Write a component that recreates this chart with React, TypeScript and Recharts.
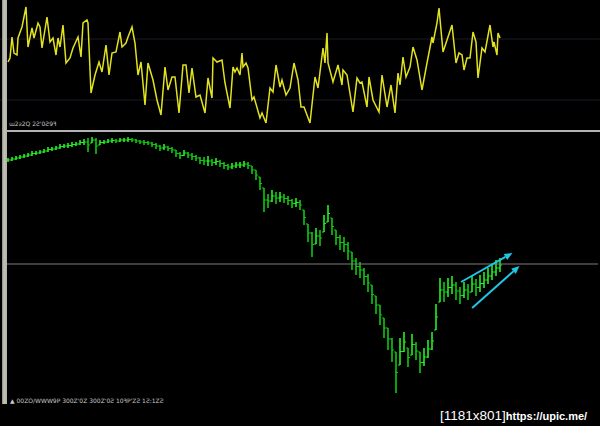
import React from "react";
import { LineChart, Line, XAxis, YAxis, ReferenceLine, ComposedChart, Bar } from "recharts";

// ---- Oscillator (top panel): bar position and oscillator value ----
const oscT = [8,10,12,14,17,18,22,26,28,32,34,38,40,42,47,50,53,56,58,60,63,66,70,73,78,81,83,87,88,91,95,99,102,106,109,112,116,120,122,126,128,132,135,138,141,145,148,153,157,161,165,168,172,175,179,183,186,189,192,196,200,205,208,212,213,217,222,225,230,233,235,237,240,242,243,246,248,252,254,260,262,266,270,273,276,280,282,286,290,294,298,301,304,310,315,318,323,325,327,328,333,338,342,343,347,353,357,360,362,367,369,373,379,382,387,391,395,398,400,403,406,410,413,417,422,427,432,433,437,439,443,447,452,456,459,462,464,467,470,473,476,478,482,485,490,493,494,497,498,500];
const oscV = [68,72,93,77,75,92,103,123,83,102,92,107,103,82,113,88,92,75,92,83,105,67,72,82,93,73,107,110,107,37,55,68,58,85,55,77,78,98,83,87,93,103,87,55,68,25,67,50,30,15,63,40,53,53,17,65,65,37,62,33,35,17,52,32,72,68,70,47,22,63,58,62,55,77,63,67,62,30,33,12,17,7,42,38,65,43,50,35,42,67,50,23,23,7,53,42,82,67,97,67,48,65,45,60,55,18,52,47,48,23,53,30,18,55,23,45,17,57,45,73,53,63,83,70,40,67,93,87,107,122,78,90,105,67,77,75,60,72,72,98,88,52,82,78,105,83,88,75,97,92];
const oscGrid = [91, 30];

// ---- Price bars (bottom panel): high / low per bar ----
const highs = [242,243,244,245,246,247,249,249,250,251,253,253,254,256,256,257,258,258,260,261,262,263,262,260,260,261,262,261,262,262,263,262,261,260,260,259,258,257,255,256,254,253,250,248,250,248,247,245,243,243,244,241,242,240,238,236,237,238,238,239,238,234,230,223,212,206,210,208,208,206,204,201,202,200,190,176,168,172,170,185,195,182,170,165,163,158,148,142,138,132,126,115,104,95,82,72,62,48,62,68,52,66,58,48,52,60,68,96,122,118,122,124,118,113,118,116,124,121,125,128,132,136,140,142];
const lows = [238,239,240,241,242,243,244,245,246,247,248,249,250,251,252,252,253,254,255,255,248,257,246,255,256,257,257,257,258,258,258,258,257,256,255,255,253,251,249,250,249,247,243,241,244,242,240,239,236,235,234,234,235,233,231,230,231,232,232,233,231,226,220,210,188,192,198,196,198,197,195,192,193,190,175,158,143,156,154,168,178,165,155,150,148,140,130,125,122,115,108,96,86,75,62,50,38,7,35,48,33,45,40,27,34,42,50,70,98,98,103,106,100,96,102,100,108,104,108,112,116,120,124,128];
const levelLine = 136;
const upperArrow = [{ x: 113, y: 118 }, { x: 125.75, y: 147 }];
const lowerArrow = [{ x: 115.75, y: 92 }, { x: 127.5, y: 134 }];

const oscData = oscT.map((t, i) => ({ t, v: oscV[i] }));
const SLOTS = 148;
const priceData = Array.from({ length: SLOTS }, (_, i) => {
  if (i >= highs.length) return { i, range: null };
  const mid = (highs[i] + lows[i]) / 2;
  const prevMid = i > 0 ? (highs[i - 1] + lows[i - 1]) / 2 : mid;
  const o = Math.min(highs[i], Math.max(lows[i], prevMid));
  return { i, range: [lows[i], highs[i]], o, c: mid, h: highs[i], l: lows[i] };
});

const BarStick = (props: any) => {
  const { x, y, width, height, payload } = props;
  if (!payload || !payload.range || !Number.isFinite(y) || !Number.isFinite(height)) return <g />;
  const cx = x + width / 2;
  const span = payload.h - payload.l || 1;
  const py = (v: number) => y + ((payload.h - v) / span) * height;
  const col = payload.c >= payload.o ? "#22f022" : "#10c810";
  return (
    <g stroke={col} strokeWidth={1.6}>
      <line x1={cx} x2={cx} y1={y} y2={y + Math.max(height, 1)} />
      <line x1={cx - 2} x2={cx} y1={py(payload.o)} y2={py(payload.o)} strokeWidth={1.2} />
      <line x1={cx} x2={cx + 2} y1={py(payload.c)} y2={py(payload.c)} strokeWidth={1.2} />
    </g>
  );
};

const ArrowShape = (props: any) => {
  const { x1, y1, x2, y2 } = props;
  const a = Math.atan2(y2 - y1, x2 - x1);
  const L = 8, W = 3.5;
  const bx = x2 - L * Math.cos(a), by = y2 - L * Math.sin(a);
  const px = -Math.sin(a) * W, py = Math.cos(a) * W;
  return (
    <g>
      <line x1={x1} y1={y1} x2={bx} y2={by} stroke="#22c4e4" strokeWidth={2} />
      <polygon points={`${x2},${y2} ${bx + px},${by + py} ${bx - px},${by - py}`} fill="#22c4e4" />
    </g>
  );
};

export default function App() {
  return (
    <div style={{ position: "fixed", left: 0, top: 0, width: 600, height: 426, background: "#000", overflow: "hidden" }}>
      <div style={{ position: "absolute", left: 0, top: 0 }}>
        <LineChart width={600} height={130} data={oscData} margin={{ top: 0, right: 0, bottom: 0, left: 0 }}>
          <XAxis dataKey="t" type="number" domain={[0, 600]} hide />
          <YAxis type="number" domain={[0, 130]} hide allowDataOverflow />
          {oscGrid.map((g) => (
            <ReferenceLine key={g} y={g} stroke="#1e1828" strokeWidth={1} />
          ))}
          <Line dataKey="v" stroke="#e2e21e" strokeWidth={1.5} dot={false} activeDot={false} isAnimationActive={false} />
        </LineChart>
      </div>
      <div style={{ position: "absolute", left: 0, top: 133 }}>
        <ComposedChart width={600} height={267} data={priceData} margin={{ top: 0, right: 2, bottom: 0, left: 6 }} barCategoryGap={0}>
          <XAxis dataKey="i" type="category" hide />
          <XAxis xAxisId="t" type="number" domain={[0, SLOTS]} hide />
          <YAxis type="number" domain={[0, 267]} hide allowDataOverflow />
          <ReferenceLine y={levelLine} stroke="#7c7c7c" strokeWidth={1} />
          <Bar dataKey="range" barSize={2} shape={BarStick} isAnimationActive={false} />
          <ReferenceLine xAxisId="t" segment={upperArrow} ifOverflow="visible" shape={ArrowShape} />
          <ReferenceLine xAxisId="t" segment={lowerArrow} ifOverflow="visible" shape={ArrowShape} />
        </ComposedChart>
      </div>
      {/* panel frame */}
      <div style={{ position: "absolute", left: 2, top: 0, width: 5, height: 404, background: "linear-gradient(90deg,#8a8a80,#c4c4b8 40%,#b0b0a6)" }} />
      <div style={{ position: "absolute", left: 7, top: 130, width: 593, height: 2, background: "#b4b4b4" }} />
      <div style={{ position: "absolute", left: 9, top: 120, fontFamily: "DejaVu Sans", fontSize: 6, color: "#c8c8c8", whiteSpace: "nowrap" }}>
        ɯ2ƨ2Q 2Ƨ'0Ƨ9ꟻ
      </div>
      <div style={{ position: "absolute", left: 10, top: 397, fontFamily: "DejaVu Sans", fontSize: 6, color: "#c8c8c8", whiteSpace: "nowrap" }}>
        ▲ 00ZO/WWW9P  300Z'0Z 300Z'0Ƨ 10ꟻP'ZƧ 1Ƨ:1ZƧ
      </div>
      <div style={{ position: "absolute", left: 440, top: 406, fontFamily: "Liberation Sans", color: "#fff", whiteSpace: "nowrap" }}>
        <span style={{ fontSize: 13.5 }}>[1181x801]</span>
        <span style={{ fontSize: 11, fontWeight: "bold" }}>https://upic.me/</span>
      </div>
    </div>
  );
}
